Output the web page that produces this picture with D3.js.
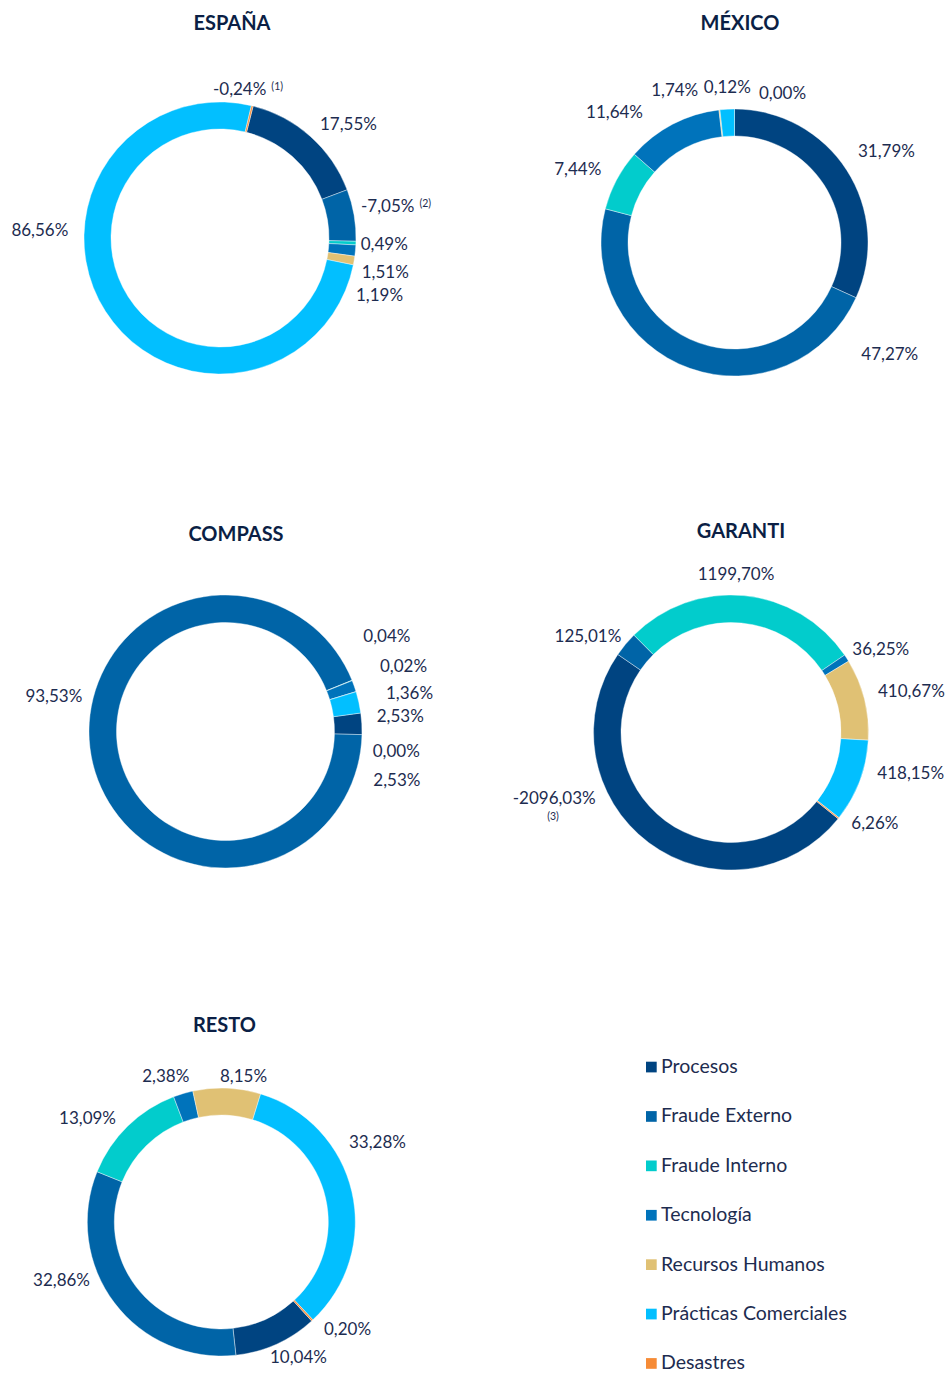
<!DOCTYPE html>
<html>
<head>
<meta charset="utf-8">
<script src="https://cdn.jsdelivr.net/npm/d3@7/dist/d3.min.js"></script>
<style>
  html, body { margin: 0; padding: 0; background: #fff; }
  svg { display: block; }
  .lbl { font-family: Lato, "Open Sans", sans-serif; font-size: 17px; fill: #1d2c50; }
  .note { font-family: Lato, "Open Sans", sans-serif; font-size: 10.5px; fill: #1d2c50; }
  .title { font-family: Lato, "Open Sans", sans-serif; font-size: 20px; font-weight: 700; fill: #0b1f45; }
  .leg { font-family: Lato, "Open Sans", sans-serif; font-size: 19.5px; fill: #1d2c50; }
</style>
</head>
<body>
<svg id="chart" width="946" height="1374"></svg>
<script>
// ---------- DATA ----------
const categories = ["Procesos", "Fraude Externo", "Fraude Interno", "Tecnología",
                    "Recursos Humanos", "Prácticas Comerciales", "Desastres"];
const colors = ["#004481", "#0064a7", "#02cccc", "#0073bb", "#e0c174", "#02bfff", "#f68b36"];

const regions = ["ESPAÑA", "MÉXICO", "COMPASS", "GARANTI", "RESTO"];
const espana  = [17.55, -7.05, 0.49, 1.51, 1.19, 86.56, -0.24];
const mexico  = [31.79, 47.27, 7.44, 11.64, 0.12, 1.74, 0.00];
const compass = [2.53, 93.53, 0.04, 1.36, 0.02, 2.53, 0.00];
const garanti = [-2096.03, 125.01, 1199.70, 36.25, 410.67, 418.15, 6.26];
const resto   = [10.04, 32.86, 13.09, 2.38, 8.15, 33.28, 0.20];
const regionValues = [espana, mexico, compass, garanti, resto];

// footnote marks attached to some labels: [region, category, mark]
const footnotes = [["ESPAÑA", 6, "(1)"], ["ESPAÑA", 1, "(2)"], ["GARANTI", 0, "(3)"]];

// ---------- LAYOUT ----------
const layout = {
  "ESPAÑA":  {cx: 220,   cy: 238,   r: 136,   ri: 109, start: 14.1, title: [232, 30]},
  "MÉXICO":  {cx: 734.5, cy: 242.5, r: 133.5, ri: 106.5, start: 0,  title: [740, 30]},
  "COMPASS": {cx: 225.5, cy: 731.5, r: 136.5, ri: 109, start: 82.2, title: [236, 540.5]},
  "GARANTI": {cx: 731,   cy: 732.5, r: 137.5, ri: 110, start: 128.8, title: [741, 537.5]},
  "RESTO":   {cx: 221.3, cy: 1222,  r: 134,   ri: 107, start: 137.6, title: [224.5, 1031.5]}
};
// label anchor offsets relative to donut centre: [dx, dy, anchor] per category
const labelPos = {
  "ESPAÑA": [[100, -108, "start"], [141, -26.3, "start"], [140.7, 12, "start"], [141.7, 40.3, "start"],
             [136, 63, "start"], [-151.7, -2, "end"], [28, -143, "middle"]],
  "MÉXICO": [[123.5, -85.8, "start"], [126.8, 117.5, "start"], [-133.2, -67.5, "end"], [-91.5, -124.2, "end"],
             [-7.2, -149.2, "middle"], [-59.8, -146.8, "middle"], [48, -143.5, "middle"]],
  "COMPASS": [[147.8, 54.2, "start"], [-143.2, -29.8, "end"], [137.8, -89.8, "start"], [160.5, -32.5, "start"],
              [154.5, -59.8, "start"], [151.2, -9.8, "start"], [147.2, 25.2, "start"]],
  "GARANTI": [[-135.3, 71.5, "end"], [-109.7, -90.8, "end"], [5, -152.5, "middle"], [121.3, -77.5, "start"],
              [147, -35.8, "start"], [146.3, 46.8, "start"], [120.3, 96.8, "start"]],
  "RESTO": [[48.7, 141.3, "start"], [-131.3, 63.7, "end"], [-105.3, -97.7, "end"], [-32, -140.3, "end"],
            [-1.3, -140.3, "start"], [127.7, -74.3, "start"], [102.7, 113, "start"]]
};

const fmt = v => v.toFixed(2).replace(".", ",") + "%";
const color = d3.scaleOrdinal().domain(categories).range(colors);
const svg = d3.select("#chart");
const rad = deg => deg * Math.PI / 180;

regions.forEach((name, ri) => {
  const L = layout[name];
  const vals = regionValues[ri];
  const data = vals.map((v, i) => ({cat: categories[i], value: v, i}));
  const pie = d3.pie().sort(null).value(d => Math.abs(d.value))
    .startAngle(rad(L.start)).endAngle(rad(L.start) + 2 * Math.PI);
  const arc = d3.arc().innerRadius(L.ri).outerRadius(L.r);
  const g = svg.append("g").attr("transform", `translate(${L.cx},${L.cy})`);

  g.selectAll("path").data(pie(data)).join("path")
    .attr("d", arc)
    .attr("fill", d => color(d.data.cat))
    .attr("stroke", d => d.data.value === 0 ? "none" : "#ffffff")
    .attr("stroke-width", 0.4);

  svg.append("text").attr("class", "title")
    .attr("x", L.title[0]).attr("y", L.title[1])
    .attr("text-anchor", "middle").text(name);

  const lp = labelPos[name];
  data.forEach((d, i) => {
    const [dx, dy, anchor] = lp[i];
    const t = g.append("text").attr("class", "lbl")
      .attr("x", dx).attr("y", dy).attr("text-anchor", anchor);
    t.append("tspan").text(fmt(d.value));
    const fn = footnotes.find(f => f[0] === name && f[1] === i);
    if (fn && name !== "GARANTI") {
      t.append("tspan").attr("font-size", 10.5).attr("dx", 5).attr("dy", -5).text(fn[2]);
    } else if (fn) {
      g.append("text").attr("class", "note").attr("x", dx - 42.7).attr("y", dy + 15.5)
        .attr("text-anchor", "middle").text(fn[2]);
    }
  });
});

// ---------- LEGEND ----------
const leg = svg.append("g").attr("transform", "translate(646,1073)");
const items = leg.selectAll("g").data(categories).join("g")
  .attr("transform", (d, i) => `translate(0,${i * 49.4})`);
items.append("rect").attr("x", 0).attr("y", -11.3).attr("width", 10.7).attr("height", 10.7)
  .attr("fill", d => color(d));
items.append("text").attr("class", "leg").attr("x", 15).attr("y", 0).text(d => d);
</script>
</body>
</html>
